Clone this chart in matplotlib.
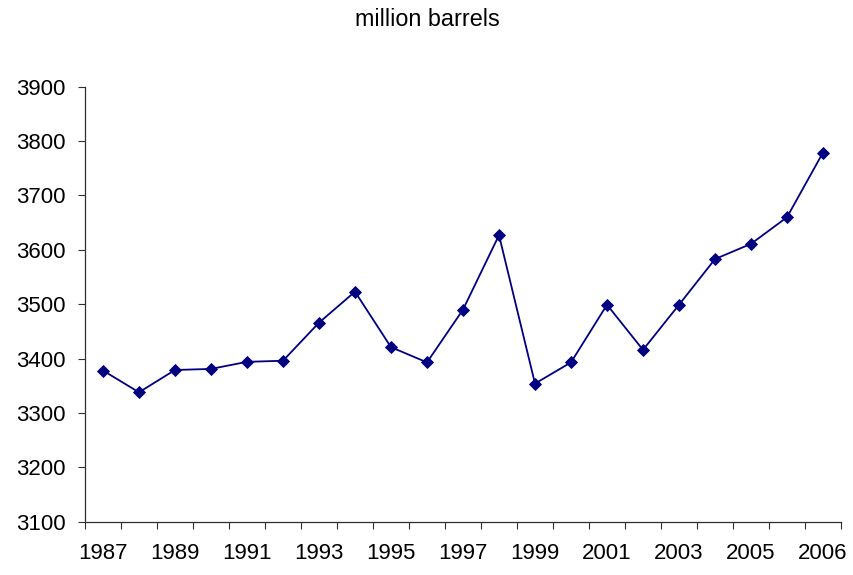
import numpy as np
import matplotlib
matplotlib.use("Agg")
import matplotlib.pyplot as plt
from matplotlib.ticker import FixedLocator, NullFormatter

plt.rcParams['font.family'] = ['Liberation Sans', 'DejaVu Sans']

# stock levels, million barrels (one point per category)
stocks = [3378, 3338, 3379, 3381, 3394, 3396, 3466, 3523, 3421, 3393,
          3490, 3627, 3354, 3393, 3499, 3416, 3499, 3583, 3611, 3660, 3779]
# only every other category carries a label
tick_labels = ['1987', '', '1989', '', '1991', '', '1993', '', '1995', '',
               '1997', '', '1999', '', '2001', '', '2003', '', '2005', '',
               '2006']
y_ticks = [3100, 3200, 3300, 3400, 3500, 3600, 3700, 3800, 3900]

navy = '#000080'
axis_col = '#303030'

fig = plt.figure(figsize=(8.54, 5.75), dpi=100)
ax = fig.add_axes([0.0995, 0.0927, 0.8853, 0.7565])

x = np.arange(len(stocks))
ax.plot(x, stocks, color=navy, lw=1.3, marker='D', ms=6.3,
        mfc=navy, mec=navy, mew=0.6, clip_on=False, zorder=3)

ax.set_xlim(-0.5, len(stocks) - 0.5)
ax.set_ylim(y_ticks[0], y_ticks[-1])

# labels sit on category centres, tick marks on category boundaries
ax.set_xticks(x)
ax.set_xticklabels(tick_labels, fontsize=16)
ax.tick_params(axis='x', which='major', length=0, pad=15.5)
ax.xaxis.set_minor_locator(FixedLocator(np.arange(len(stocks) + 1) - 0.5))
ax.xaxis.set_minor_formatter(NullFormatter())
ax.tick_params(axis='x', which='minor', length=5, width=0.8,
               direction='out', color=axis_col)

ax.set_yticks(y_ticks)
ax.set_yticklabels([str(v) for v in y_ticks], fontsize=16)
ax.tick_params(axis='y', length=5, width=0.8, direction='out', pad=9,
               color=axis_col)

for side in ('top', 'right'):
    ax.spines[side].set_visible(False)
for side in ('left', 'bottom'):
    ax.spines[side].set_color(axis_col)
    ax.spines[side].set_linewidth(0.9)

fig.text(0.5, 1 - 20 / 575, 'million barrels', ha='center', va='center',
         fontsize=16.8)

fig.savefig('out.png', dpi=100)
